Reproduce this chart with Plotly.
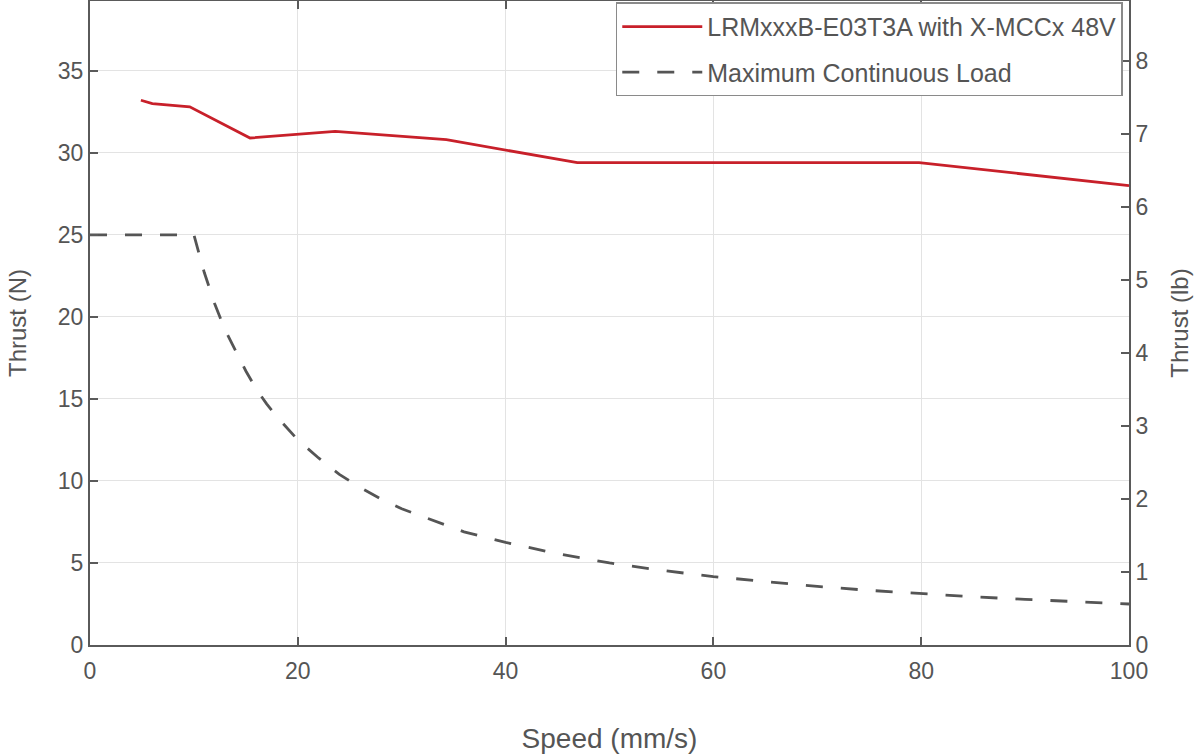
import plotly.graph_objects as go

N_PER_LB = 4.44822

# Data
speed_thrust = [4.9, 6.0, 9.6, 15.4, 23.6, 34.3, 46.9, 79.8, 100]
thrust_n = [33.2, 33.0, 32.8, 30.9, 31.3, 30.8, 29.4, 29.4, 28.0]

speed_load = [0, 10, 11, 12, 13, 14, 15, 16, 17, 18, 19, 20, 22, 24, 26, 28, 30, 33, 36, 40,
              45, 50, 55, 60, 65, 70, 75, 80, 85, 90, 95, 100]
load_n = [25, 25, 22.7, 20.8, 19.2, 17.9, 16.7, 15.6, 14.7, 13.9, 13.2, 12.5, 11.4, 10.4, 9.6,
          8.9, 8.3, 7.6, 6.9, 6.25, 5.56, 5.0, 4.55, 4.17, 3.85, 3.57, 3.33, 3.13, 2.94, 2.78,
          2.63, 2.5]

x_ticks = [0, 20, 40, 60, 80, 100]
yn_ticks = [0, 5, 10, 15, 20, 25, 30, 35]
ylb_ticks = [0, 1, 2, 3, 4, 5, 6, 7, 8]

name_thrust = "LRMxxxB-E03T3A with X-MCCx 48V"
name_load = "Maximum Continuous Load"

FONT = "Liberation Sans, Arial, Helvetica, sans-serif"
TXT = "#555555"
AX = "#5a5a5a"
GRID = "#e3e3e3"

y_max_n = 39.25

fig = go.Figure()
fig.add_trace(go.Scatter(x=speed_thrust, y=thrust_n, mode="lines", name=name_thrust,
                         legendgroup="a",
                         line=dict(color="#c8202a", width=2.8)))
fig.add_trace(go.Scatter(x=speed_load, y=load_n, mode="lines", name=name_load,
                         legendgroup="b",
                         line=dict(color="#555555", width=2.8, dash="17px,18px")))
# invisible trace to activate secondary axis
fig.add_trace(go.Scatter(x=[0], y=[0], yaxis="y2", mode="lines", showlegend=False,
                         hoverinfo="skip", line=dict(width=0)))

fig.update_layout(
    width=1196, height=756,
    paper_bgcolor="white", plot_bgcolor="white",
    margin=dict(l=90, r=67, t=1, b=111),
    font=dict(family=FONT, color=TXT, size=23),
    xaxis=dict(range=[0, 100], tickvals=x_ticks, showgrid=True, gridcolor=GRID, gridwidth=1,
               showline=True, linecolor=AX, linewidth=2, mirror="ticks",
               ticks="inside", ticklen=8, tickwidth=1.5, tickcolor=AX, automargin=False,
               tickfont=dict(size=23, color=TXT), zeroline=False, ticklabelstandoff=4,
               title=dict(text="Speed (mm/s)", font=dict(size=28, color=TXT), standoff=46)),
    yaxis=dict(range=[0, y_max_n], tickvals=yn_ticks, showgrid=True, gridcolor=GRID, gridwidth=1,
               showline=True, linecolor=AX, linewidth=2, mirror=True,
               ticks="inside", ticklen=8, tickwidth=1.5, tickcolor=AX, automargin=False,
               tickfont=dict(size=23, color=TXT), zeroline=False,
               title=dict(text="Thrust (N)", font=dict(size=24, color=TXT), standoff=24)),
    yaxis2=dict(range=[0, y_max_n / N_PER_LB], tickvals=ylb_ticks, overlaying="y", side="right",
                showgrid=False, showline=True, linecolor=AX, linewidth=2, automargin=False,
                ticks="inside", ticklen=8, tickwidth=1.5, tickcolor=AX,
                tickfont=dict(size=23, color=TXT), zeroline=False,
                title=dict(text="Thrust (lb)", font=dict(size=24, color=TXT), standoff=24)),
    legend=dict(x=0.994, xanchor="right", y=0.998, yanchor="top",
                bgcolor="white", bordercolor="#8a8a8a", borderwidth=1.5,
                font=dict(size=25, color=TXT), itemwidth=80, tracegroupgap=10,
                traceorder="grouped"),
    showlegend=True,
)

fig.write_html("out.html", config={"displayModeBar": False},
               post_script="document.body.style.margin='0';document.body.style.padding='0';")
